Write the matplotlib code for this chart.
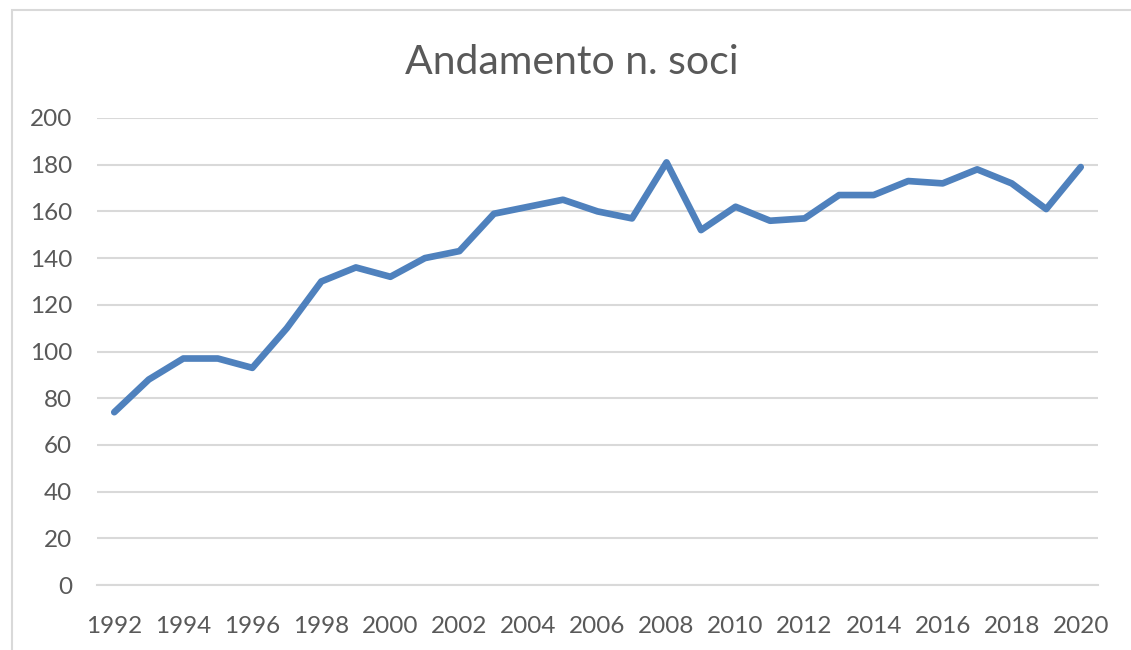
import matplotlib
matplotlib.use("Agg")
import matplotlib.pyplot as plt
from matplotlib.patches import Rectangle

# Data
years = list(range(1992, 2021))
soci = [74, 88, 97, 97, 93, 110, 130, 136, 132, 140, 143, 159, 162, 165,
        160, 157, 181, 152, 162, 156, 157, 167, 167, 173, 172, 178, 172,
        161, 179]
y_ticks = list(range(0, 201, 20))
x_ticks = years[::2]

W, H = 1131, 650
plt.rcParams["font.family"] = ["Lato", "DejaVu Sans"]

fig = plt.figure(figsize=(W / 100, H / 100), dpi=100)

# light frame around the chart area (Excel-like)
fig.patches.append(Rectangle((12 / W, -0.05), 1.1, (H - 10) / H + 0.05,
                             transform=fig.transFigure, fill=False,
                             edgecolor="#d9d9d9", linewidth=1.5))

ax = fig.add_axes([97 / W, 65 / H, (1098 - 97) / W, (585 - 118) / H])
ax.plot(years, soci, color="#4f81bd", linewidth=4.8,
        solid_capstyle="round", solid_joinstyle="round", zorder=3)

ax.set_xlim(years[0] - 0.5, years[-1] + 0.5)
ax.set_ylim(0, 200)
ax.set_yticks(y_ticks)
ax.set_xticks(x_ticks)
ax.grid(axis="y", color="#d9d9d9", linewidth=1.5)
ax.set_axisbelow(True)

for side in ["top", "right", "left"]:
    ax.spines[side].set_visible(False)
ax.spines["bottom"].set_color("#d9d9d9")
ax.spines["bottom"].set_linewidth(1.5)

ax.tick_params(axis="both", length=0, labelsize=17.5, labelcolor="#595959")
ax.tick_params(axis="y", pad=18)
ax.tick_params(axis="x", pad=22)

fig.text(572 / W, 1 - 63 / H, "Andamento n. soci", ha="center", va="center",
         fontsize=29.5, color="#595959")

fig.savefig("out.png", dpi=100)
